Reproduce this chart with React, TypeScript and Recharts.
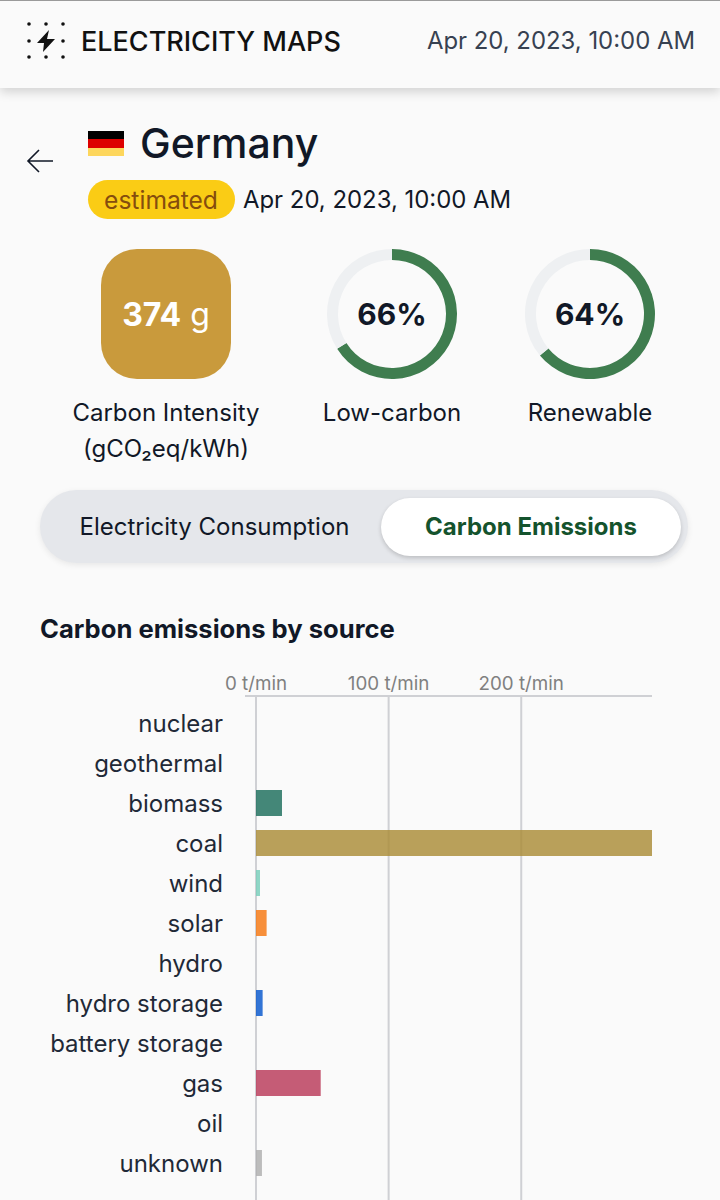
import React from "react";
import { BarChart, Bar, XAxis, YAxis, CartesianGrid, Cell, PieChart, Pie } from "recharts";

const sources = ["nuclear", "geothermal", "biomass", "coal", "wind", "solar", "hydro", "hydro storage", "battery storage", "gas", "oil", "unknown"];
const emissions = [0, 0, 19.6, 298.6, 3, 8, 0, 5, 0, 48.8, 0, 4.5];
const sourceColors = ["#9d71f7", "#a0522d", "#166a57", "#a98a32", "#74cdb9", "#f6740a", "#2772b2", "#0052cc", "#b390fa", "#b83455", "#867d66", "#acacac"];
const xTicks = [0, 100, 200];

const lowCarbon = [66, 34];
const renewable = [64, 36];
const donutColors = ["#3f7d4f", "#eef0f2"];

const FONT = "Inter, sans-serif";

const rows = sources.map((source, i) => ({ source, value: emissions[i] }));

function Txt({ x, y, size, color = "#111827", weight = 400, align = "left", children, spacing = 0 }: any) {
  const style: React.CSSProperties = {
    position: "absolute", top: y, fontSize: size, color, fontWeight: weight, lineHeight: 1,
    whiteSpace: "nowrap", letterSpacing: spacing, transform: "translateY(-50%)",
  };
  if (align === "center") {
    style.left = x;
    style.transform = "translate(-50%,-50%)";
  } else if (align === "right") {
    style.right = 720 - x;
  } else {
    style.left = x;
  }
  return <div style={style}>{children}</div>;
}

function Donut({ data, cx, label }: { data: number[]; cx: number; label: string }) {
  const slices = data.map((value, i) => ({ name: String(i), value }));
  return (
    <div style={{ position: "absolute", left: cx - 70, top: 244, width: 140, height: 140 }}>
      <PieChart width={140} height={140} margin={{ top: 0, right: 0, bottom: 0, left: 0 }}>
        <Pie
          data={slices} dataKey="value" cx={70} cy={70}
          innerRadius={54} outerRadius={65} startAngle={90} endAngle={-270}
          stroke="none" isAnimationActive={false}
        >
          {slices.map((s, i) => <Cell key={s.name} fill={donutColors[i]} />)}
        </Pie>
      </PieChart>
      <Txt x={70} y={70} size={30} weight={700} align="center">{label}</Txt>
    </div>
  );
}

function Logo() {
  const dots = [[3, 3], [20, 3], [37, 3], [3, 20], [37, 20], [3, 36], [20, 36], [37, 36]];
  return (
    <svg width={40} height={40} style={{ position: "absolute", left: 26, top: 21 }}>
      {dots.map(([x, y]) => <circle key={`${x}-${y}`} cx={x} cy={y} r={1.8} fill="#111" />)}
      <path d="M23 9 L11 22 L18 22 L17 31 L29 18 L21 18 Z" fill="#111" />
    </svg>
  );
}

export default function App() {
  return (
    <div style={{ position: "fixed", left: 0, top: 0, width: 720, height: 1200, overflow: "hidden", background: "#fafafa", fontFamily: FONT }}>
      <div style={{ position: "absolute", left: 0, top: 0, width: 720, height: 88, background: "#fafafa", borderTop: "1px solid #9a9a9a", boxSizing: "border-box", boxShadow: "0 4px 10px rgba(0,0,0,0.16)" }} />
      <Logo />
      <Txt x={81} y={41} size={27} weight={500} color="#111">ELECTRICITY MAPS</Txt>
      <Txt x={695} y={41} size={23.9} color="#374151" align="right">Apr 20, 2023, 10:00 AM</Txt>

      <svg width={30} height={26} style={{ position: "absolute", left: 26, top: 148 }}>
        <path d="M13 2 L2 13 L13 24 M2 13 L27 13" fill="none" stroke="#111827" strokeWidth={1.6} />
      </svg>
      <div style={{ position: "absolute", left: 88, top: 131, width: 36, height: 25 }}>
        <div style={{ height: 8, background: "#000" }} />
        <div style={{ height: 9, background: "#dd0000" }} />
        <div style={{ height: 8, background: "#fdd65c" }} />
      </div>
      <Txt x={140} y={143} size={41} weight={500}>Germany</Txt>
      <div style={{ position: "absolute", left: 88, top: 180, width: 147, height: 39, borderRadius: 20, background: "#facc15" }} />
      <Txt x={161} y={200} size={24.6} color="#854d0e" align="center">estimated</Txt>
      <Txt x={243} y={200} size={23.9}>Apr 20, 2023, 10:00 AM</Txt>

      <div style={{ position: "absolute", left: 101, top: 249, width: 130, height: 130, borderRadius: 36, background: "#c99a3c" }} />
      <div style={{ position: "absolute", left: 101, top: 249, width: 130, height: 130, display: "flex", alignItems: "center", justifyContent: "center", color: "#fff", fontSize: 32 }}>
        <span style={{ fontWeight: 700 }}>374</span><span>&nbsp;g</span>
      </div>
      <Txt x={166} y={413} size={24} align="center">Carbon Intensity</Txt>
      <Txt x={166} y={449} size={24} align="center">(gCO₂eq/kWh)</Txt>

      <Donut data={lowCarbon} cx={392} label="66%" />
      <Txt x={392} y={413} size={24} align="center">Low-carbon</Txt>
      <Donut data={renewable} cx={590} label="64%" />
      <Txt x={590} y={413} size={24} align="center">Renewable</Txt>

      <div style={{ position: "absolute", left: 40, top: 490, width: 648, height: 73, borderRadius: 37, background: "#e5e7eb", boxShadow: "0 2px 6px rgba(0,0,0,0.08)" }} />
      <div style={{ position: "absolute", left: 381, top: 498, width: 300, height: 58, borderRadius: 29, background: "#fff", boxShadow: "0 2px 4px rgba(0,0,0,0.18)" }} />
      <Txt x={214.5} y={527} size={24} align="center">Electricity Consumption</Txt>
      <Txt x={531} y={527} size={24} weight={700} color="#14532d" align="center">Carbon Emissions</Txt>

      <Txt x={40} y={629} size={25.6} weight={700}>Carbon emissions by source</Txt>

      <div style={{ position: "absolute", left: 0, top: 660 }}>
        <BarChart
          width={720} height={540} data={rows} layout="vertical"
          margin={{ top: 0, right: 68, bottom: 0, left: 0 }}
          barSize={26}
        >
          <CartesianGrid horizontal={false} syncWithTicks stroke="#cfd0d4" strokeWidth={2} />
          <XAxis
            type="number" orientation="top" domain={[0, 298.6]} ticks={xTicks} allowDataOverflow
            padding={{ left: 11, right: 0 }}
            tickFormatter={(v: number) => `${v} t/min`}
            tick={{ fill: "#808080", fontSize: 18.8, fontFamily: FONT }}
            tickLine={false} tickSize={0} tickMargin={6}
            axisLine={{ stroke: "#cfd0d4", strokeWidth: 2 }}
            height={36}
          />
          <YAxis
            type="category" dataKey="source" width={245} interval={0}
            padding={{ top: 7, bottom: 17 }}
            tick={{ fill: "#1f2937", fontSize: 24, fontFamily: FONT }}
            tickLine={false} tickSize={0} tickMargin={22} axisLine={false}
          />
          <Bar dataKey="value" isAnimationActive={false} fillOpacity={0.8}>
            {rows.map((r, i) => <Cell key={r.source} fill={sourceColors[i]} />)}
          </Bar>
        </BarChart>
      </div>
    </div>
  );
}
